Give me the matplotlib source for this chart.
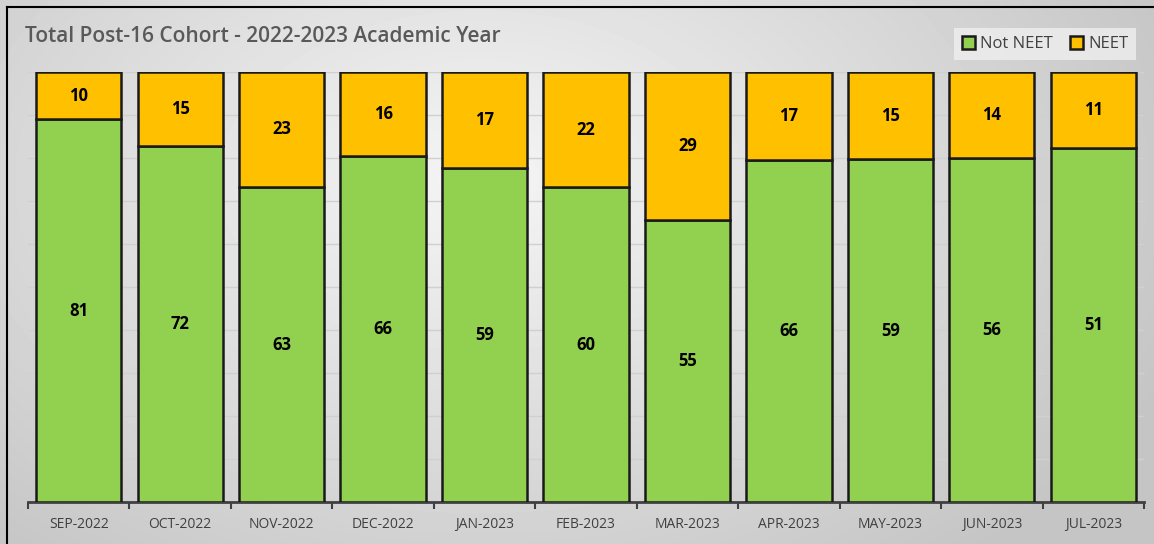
import matplotlib.pyplot as plt
import numpy as np

# data
months = ['SEP-2022', 'OCT-2022', 'NOV-2022', 'DEC-2022', 'JAN-2023', 'FEB-2023',
          'MAR-2023', 'APR-2023', 'MAY-2023', 'JUN-2023', 'JUL-2023']
not_neet = [81, 72, 63, 66, 59, 60, 55, 66, 59, 56, 51]
neet = [10, 15, 23, 16, 17, 22, 29, 17, 15, 14, 11]

green = '#92D050'
yellow = '#FFC000'
font = ['Open Sans', 'DejaVu Sans']

W, H = 1154, 544
fig = plt.figure(figsize=(W / 100, H / 100), dpi=100)

# background gradient
bg = fig.add_axes([0, 0, 1, 1])
yy, xx = np.mgrid[0:H, 0:W]
r = np.sqrt(((xx - 480) / 800.0) ** 2 + ((yy - 180) / 520.0) ** 2)
shade = np.clip(0.96 - 0.2 * r, 0.77, 0.96)
bg.imshow(shade, cmap='gray', vmin=0, vmax=1, aspect='auto', extent=[0, W, H, 0])
bg.plot([7, 7], [7, H], color='black', lw=1.5)
bg.plot([7, W], [7, 7], color='black', lw=1.5)
bg.set_xlim(0, W)
bg.set_ylim(H, 0)
bg.axis('off')

# plot area in pixels: x 28..1144, y 72..502
ax = fig.add_axes([28 / W, (H - 502) / H, (1144 - 28) / W, (502 - 72) / H])
ax.patch.set_alpha(0)

tot = np.array(not_neet) + np.array(neet)
p_not = np.array(not_neet) / tot
p_neet = np.array(neet) / tot
x = np.arange(len(months))
width = 0.84

ax.bar(x, p_not, width, color=green, edgecolor='#1a1a1a', linewidth=1.8, label='Not NEET', zorder=3)
ax.bar(x, p_neet, width, bottom=p_not, color=yellow, edgecolor='#1a1a1a', linewidth=1.8, label='NEET', zorder=3)

for i in range(len(months)):
    ax.text(x[i], p_not[i] / 2, str(not_neet[i]), ha='center', va='center',
            fontsize=12, fontweight='bold', family=font, zorder=4)
    ax.text(x[i], p_not[i] + p_neet[i] / 2, str(neet[i]), ha='center', va='center',
            fontsize=12, fontweight='bold', family=font, zorder=4)

ax.set_xlim(-0.5, len(months) - 0.5)
ax.set_ylim(0, 1)
ax.set_yticks(np.arange(0.1, 1.01, 0.1))
ax.yaxis.grid(True, color='#d0d0d0', lw=1, zorder=0)
ax.tick_params(axis='y', length=0, labelleft=False)
ax.set_xticks(x)
ax.set_xticklabels(months, family=font, fontsize=10, color='#404040')
ax.set_xticks(np.arange(-0.5, len(months), 1), minor=True)
ax.tick_params(axis='x', which='major', length=0, pad=11)
ax.tick_params(axis='x', which='minor', length=5, width=1.5, color='#404040')
for s in ['top', 'right', 'left']:
    ax.spines[s].set_visible(False)
ax.spines['bottom'].set_color('#404040')
ax.spines['bottom'].set_linewidth(2)

fig.text(25 / W, 1 - 37 / H, 'Total Post-16 Cohort - 2022-2023 Academic Year',
         family=font, fontsize=15, fontweight='semibold', color='#595959', va='center')

leg = fig.legend(loc='upper right', bbox_to_anchor=(1144 / W, 1 - 20 / H), ncol=2,
                 frameon=True, fancybox=False, handlelength=0.8, handleheight=0.8,
                 handletextpad=0.3, columnspacing=1.0, borderpad=0.45,
                 prop={'family': font, 'size': 12})
leg.get_frame().set_facecolor('#efefef')
leg.get_frame().set_edgecolor('none')
leg.get_frame().set_alpha(0.8)
for t in leg.get_texts():
    t.set_color('#404040')

fig.savefig('out.png', dpi=100)
